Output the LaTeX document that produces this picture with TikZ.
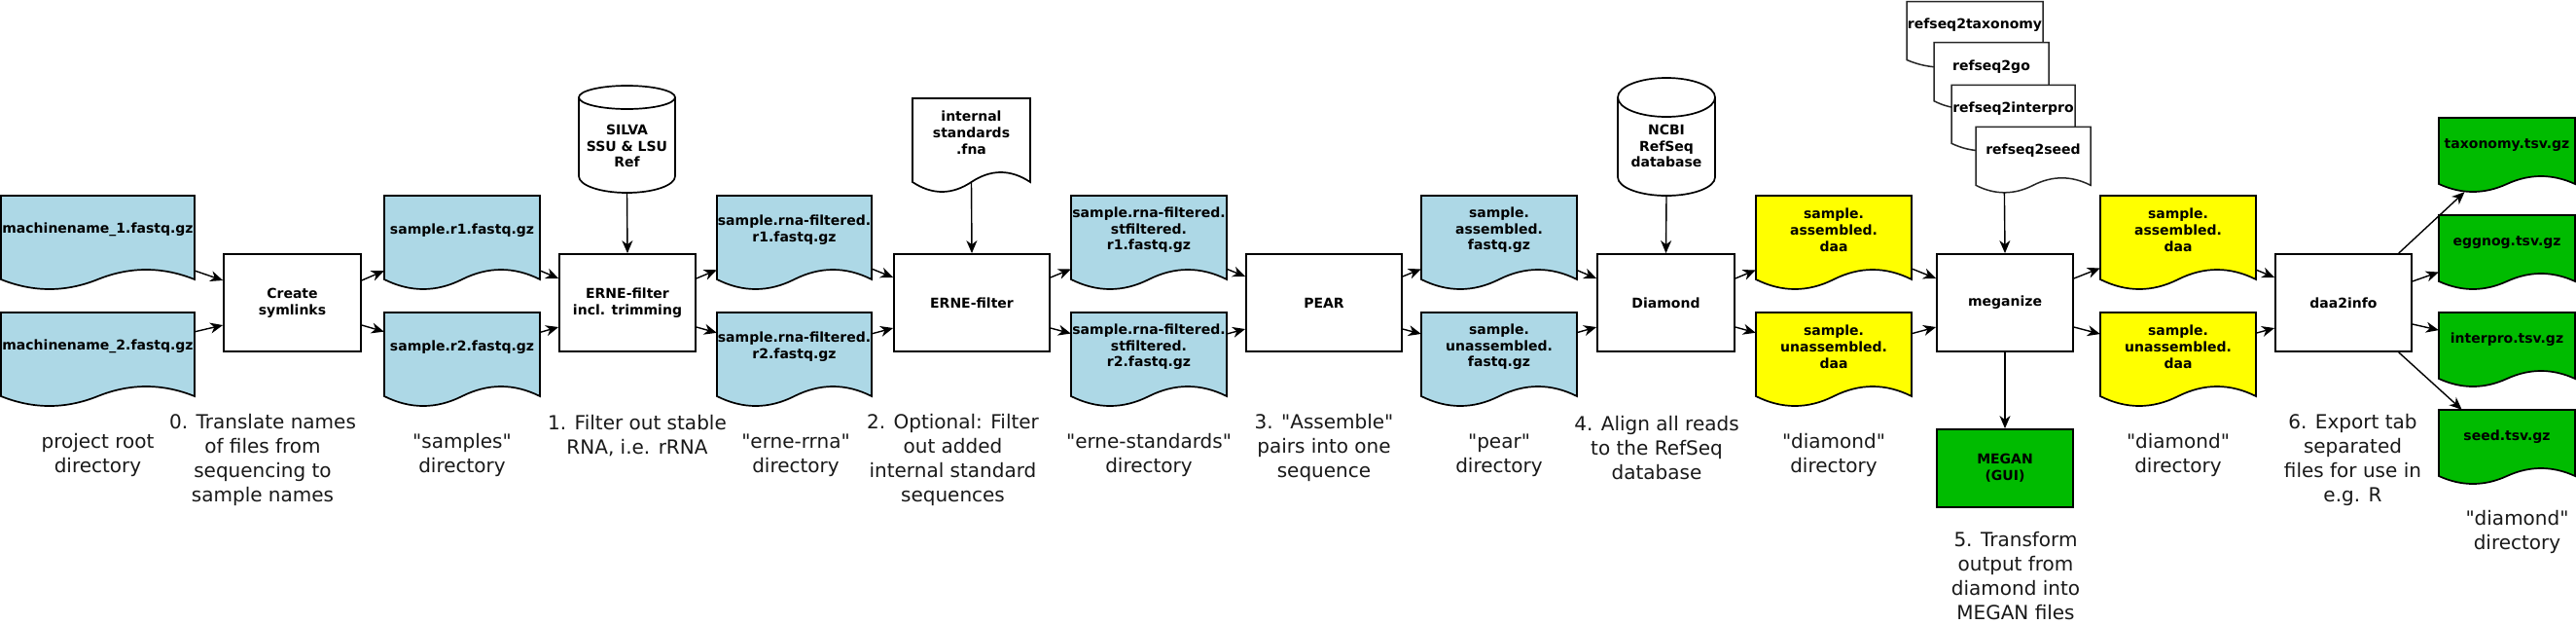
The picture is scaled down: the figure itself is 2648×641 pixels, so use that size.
\documentclass[tikz,border=0pt]{standalone}
\usepackage{fontspec}
\setmainfont{DejaVu Sans}[Ligatures=TeXOff]
\usetikzlibrary{arrows.meta,calc}
\definecolor{docblue}{HTML}{ADD8E6}
\definecolor{docyellow}{HTML}{FFFF00}
\definecolor{docgreen}{HTML}{00BB00}
\newcommand{\boldtxt}{\fontsize{14}{16.8}\selectfont\bfseries}
\newcommand{\normtxt}{\fontsize{20}{25}\selectfont}

% document shape: name, x, y(top), w, side height, wave amplitude, path style, text
\newcommand{\docshape}[8]{%
  \pgfmathsetmacro{\dcXa}{#2}%
  \pgfmathsetmacro{\dcXb}{#2+#4}%
  \pgfmathsetmacro{\dcXm}{#2+#4/2}%
  \pgfmathsetmacro{\dcXq}{#2+5*#4/6}%
  \pgfmathsetmacro{\dcXr}{#2+2*#4/3}%
  \pgfmathsetmacro{\dcXs}{#2+#4/3}%
  \pgfmathsetmacro{\dcXt}{#2+#4/6}%
  \pgfmathsetmacro{\dcYb}{#3+#5}%
  \pgfmathsetmacro{\dcYu}{#3+#5-4*#6/3}%
  \pgfmathsetmacro{\dcYd}{#3+#5+4*#6/3}%
  \pgfmathsetmacro{\dcYc}{#3+#5/2}%
  \pgfmathsetmacro{\dcYt}{#3+0.41*#5}%
  \path[#7] (\dcXa,#3) -- (\dcXb,#3) -- (\dcXb,\dcYb)
    .. controls (\dcXq,\dcYu) and (\dcXr,\dcYu) .. (\dcXm,\dcYb)
    .. controls (\dcXs,\dcYd) and (\dcXt,\dcYd) .. (\dcXa,\dcYb) -- cycle;
  \node[docanchor, minimum width=#4 pt, minimum height=#5 pt] (#1) at (\dcXm,\dcYc) {};
  \node[dtxt] (#1-t) at (\dcXm,\dcYt) {#8};
}

% cylinder: name, x0, x1, y top-ellipse centre, top ry, y bottom, bottom ry, text y, text
\newcommand{\cylshape}[9]{%
  \pgfmathsetmacro{\cyC}{(#2+#3)/2}%
  \pgfmathsetmacro{\cyK}{0.5523*(#3-#2)/2}%
  \pgfmathsetmacro{\cyTa}{#4-#5}%
  \pgfmathsetmacro{\cyTb}{#4+#5}%
  \pgfmathsetmacro{\cyTk}{0.5523*#5}%
  \pgfmathsetmacro{\cyBb}{#6+#7}%
  \pgfmathsetmacro{\cyBk}{0.5523*#7}%
  \pgfmathsetmacro{\cyH}{#6+#7-#4+#5}%
  \pgfmathsetmacro{\cyM}{(#4-#5+#6+#7)/2}%
  \pgfmathsetmacro{\cyW}{#3-#2}%
  \path[docline, fill=white] (#2,#4)
    .. controls (#2,#4-\cyTk) and (\cyC-\cyK,\cyTa) .. (\cyC,\cyTa)
    .. controls (\cyC+\cyK,\cyTa) and (#3,#4-\cyTk) .. (#3,#4) -- (#3,#6)
    .. controls (#3,#6+\cyBk) and (\cyC+\cyK,\cyBb) .. (\cyC,\cyBb)
    .. controls (\cyC-\cyK,\cyBb) and (#2,#6+\cyBk) .. (#2,#6) -- cycle;
  \path[docline] (#2,#4)
    .. controls (#2,#4+\cyTk) and (\cyC-\cyK,\cyTb) .. (\cyC,\cyTb)
    .. controls (\cyC+\cyK,\cyTb) and (#3,#4+\cyTk) .. (#3,#4);
  \node[docanchor, minimum width=\cyW pt, minimum height=\cyH pt] (#1) at (\cyC,\cyM) {};
  \node[dtxt] (#1-t) at (\cyC,#8) {#9};
}

\tikzset{
  procbox/.style={draw, line width=1.8pt, fill=white, font=\boldtxt, align=center, inner sep=2pt},
  flow/.style={-{Stealth[length=13pt,width=11pt,inset=4pt]}, line width=1.4pt},
  lbl/.style={font=\normtxt, align=center, inner sep=0pt, text=black!90},
  dtxt/.style={font=\boldtxt, align=center, inner sep=0pt},
  docanchor/.style={draw=none, inner sep=0pt, rectangle},
  docline/.style={draw, line width=1.7pt},
  stackline/.style={draw=black!85, line width=1.5pt},
}

\begin{document}
\begin{tikzpicture}[x=1pt, y=-1pt]
\fill[white] (0,0) rectangle (2648,641);
\path[use as bounding box] (0,0) rectangle (2648,641);

% ---------- stage 0 ----------
\docshape{m1}{1}{201}{199}{86}{10}{docline, fill=docblue}{machinename\_1.fastq.gz}
\docshape{m2}{1}{321}{199}{86}{10}{docline, fill=docblue}{machinename\_2.fastq.gz}
\node[procbox, minimum width=141pt, minimum height=100pt] (symlinks) at (300.5,311) {Create\\symlinks};
\docshape{s1}{395}{201}{160}{86}{10}{docline, fill=docblue}{sample.r1.fastq.gz}
\docshape{s2}{395}{321}{160}{86}{10}{docline, fill=docblue}{sample.r2.fastq.gz}

% ---------- stage 1 ----------
\cylshape{silva}{595}{694}{100}{12}{181}{17}{150}{SILVA\\SSU \& LSU\\Ref}
\node[procbox, minimum width=140pt, minimum height=100pt] (erne1) at (645,311) {ERNE-filter\\incl. trimming};
\docshape{r1}{737}{201}{159}{86}{10}{docline, fill=docblue}{sample.rna-filtered.\\r1.fastq.gz}
\docshape{r2}{737}{321}{159}{86}{10}{docline, fill=docblue}{sample.rna-filtered.\\r2.fastq.gz}

% ---------- stage 2 ----------
\docshape{istd}{938}{101}{121}{86}{10}{docline, fill=white}{internal\\standards\\.fna}
\node[procbox, minimum width=160pt, minimum height=100pt] (erne2) at (999,311) {ERNE-filter};
\docshape{st1}{1101}{201}{160}{86}{10}{docline, fill=docblue}{sample.rna-filtered.\\stfiltered.\\r1.fastq.gz}
\docshape{st2}{1101}{321}{160}{86}{10}{docline, fill=docblue}{sample.rna-filtered.\\stfiltered.\\r2.fastq.gz}

% ---------- stage 3 ----------
\node[procbox, minimum width=160pt, minimum height=100pt] (pear) at (1361,311) {PEAR};
\docshape{pa}{1461}{201}{160}{86}{10}{docline, fill=docblue}{sample.\\assembled.\\fastq.gz}
\docshape{pu}{1461}{321}{160}{86}{10}{docline, fill=docblue}{sample.\\unassembled.\\fastq.gz}

% ---------- stage 4 ----------
\cylshape{ncbi}{1663}{1763}{100}{20}{182}{19}{150}{NCBI\\RefSeq\\database}
\node[procbox, minimum width=141pt, minimum height=100pt] (diamond) at (1712.5,311) {Diamond};
\docshape{da}{1805}{201}{160}{86}{10}{docline, fill=docyellow}{sample.\\assembled.\\daa}
\docshape{du}{1805}{321}{160}{86}{10}{docline, fill=docyellow}{sample.\\unassembled.\\daa}

% ---------- stage 5 ----------
\docshape{rtax}{1960}{1.5}{140}{60}{7.5}{stackline, fill=white}{refseq2taxonomy}
\docshape{rgo}{1988}{43.7}{118}{60}{7.5}{stackline, fill=white}{refseq2go}
\docshape{ripr}{2006}{87.3}{127}{60}{7.5}{stackline, fill=white}{refseq2interpro}
\docshape{rseed}{2031}{130.3}{118}{60}{7.5}{stackline, fill=white}{refseq2seed}
\node[procbox, minimum width=140pt, minimum height=100pt] (meganize) at (2061,311) {meganize};
\node[procbox, fill=docgreen, minimum width=140pt, minimum height=80pt] (megan) at (2061,481) {MEGAN\\(GUI)};
\docshape{ma}{2159}{201}{160}{86}{10}{docline, fill=docyellow}{sample.\\assembled.\\daa}
\docshape{mu}{2159}{321}{160}{86}{10}{docline, fill=docyellow}{sample.\\unassembled.\\daa}

% ---------- stage 6 ----------
\node[procbox, minimum width=140pt, minimum height=100pt] (daa2info) at (2409,311) {daa2info};
\docshape{gtax}{2507}{121}{140}{68}{8}{docline, fill=docgreen}{taxonomy.tsv.gz}
\docshape{gegg}{2507}{221}{140}{68}{8}{docline, fill=docgreen}{eggnog.tsv.gz}
\docshape{gipr}{2507}{321}{140}{68}{8}{docline, fill=docgreen}{interpro.tsv.gz}
\docshape{gseed}{2507}{421}{140}{68}{8}{docline, fill=docgreen}{seed.tsv.gz}

% ---------- connectors ----------
\draw[flow] (m1) -- ($(symlinks.west)+(0,-23)$);
\draw[flow] (m2) -- ($(symlinks.west)+(0,23)$);
\draw[flow] ($(symlinks.east)+(0,-23)$) -- (s1);
\draw[flow] ($(symlinks.east)+(0,23)$) -- (s2);

\draw[flow] (s1) -- ($(erne1.west)+(0,-25)$);
\draw[flow] (s2) -- ($(erne1.west)+(0,25)$);
\draw[flow] (silva.south) -- (erne1.north);
\draw[flow] ($(erne1.east)+(0,-25)$) -- (r1);
\draw[flow] ($(erne1.east)+(0,25)$) -- (r2);

\draw[flow] (r1) -- ($(erne2.west)+(0,-26)$);
\draw[flow] (r2) -- ($(erne2.west)+(0,26)$);
\draw[flow] (istd.south) -- (erne2.north);
\draw[flow] ($(erne2.east)+(0,-26)$) -- (st1);
\draw[flow] ($(erne2.east)+(0,26)$) -- (st2);

\draw[flow] (st1) -- ($(pear.west)+(0,-27)$);
\draw[flow] (st2) -- ($(pear.west)+(0,27)$);
\draw[flow] ($(pear.east)+(0,-27)$) -- (pa);
\draw[flow] ($(pear.east)+(0,27)$) -- (pu);

\draw[flow] (pa) -- ($(diamond.west)+(0,-25)$);
\draw[flow] (pu) -- ($(diamond.west)+(0,25)$);
\draw[flow] (ncbi.south) -- (diamond.north);
\draw[flow] ($(diamond.east)+(0,-25)$) -- (da);
\draw[flow] ($(diamond.east)+(0,25)$) -- (du);

\draw[flow] (da) -- ($(meganize.west)+(0,-25)$);
\draw[flow] (du) -- ($(meganize.west)+(0,25)$);
\draw[flow] ($(rseed.south west)!0.25!(rseed.south east)+(0,7.5)$) -- (meganize.north);
\draw[flow] (meganize.south) -- (megan.north);
\draw[flow] ($(meganize.east)+(0,-25)$) -- (ma);
\draw[flow] ($(meganize.east)+(0,25)$) -- (mu);

\draw[flow] (ma) -- ($(daa2info.west)+(0,-26)$);
\draw[flow] (mu) -- ($(daa2info.west)+(0,26)$);
\draw[flow] ($(daa2info.north west)!0.9!(daa2info.north east)$) -- ($(gtax.south west)!0.19!(gtax.south east)+(0,8)$);
\draw[flow] ($(daa2info.east)+(0,-22)$) -- (gegg);
\draw[flow] ($(daa2info.east)+(0,22)$) -- (gipr);
\draw[flow] ($(daa2info.south west)!0.9!(daa2info.south east)$) -- ($(gseed.north west)!0.17!(gseed.north east)$);

% ---------- labels ----------
\node[lbl] (lroot) at (100.5,467.5) {project root\\directory};
\node[lbl] (l0) at (270,472.5) {0. Translate names\\of files from\\sequencing to\\sample names};
\node[lbl] (lsamples) at (475,467.5) {"samples"\\directory};
\node[lbl] (l1) at (655,447.5) {1. Filter out stable\\RNA, i.e. rRNA};
\node[lbl] (lrrna) at (818,467.5) {"erne-rrna"\\directory};
\node[lbl] (l2) at (979.5,472.5) {2. Optional: Filter\\out added\\internal standard\\sequences};
\node[lbl] (lstd) at (1181,467.5) {"erne-standards"\\directory};
\node[lbl] (l3) at (1361,460) {3. "Assemble"\\pairs into one\\sequence};
\node[lbl] (lpear) at (1541,467.5) {"pear"\\directory};
\node[lbl] (l4) at (1703,460) {4. Align all reads\\to the RefSeq\\database};
\node[lbl] (ldia1) at (1885,467.5) {"diamond"\\directory};
\node[lbl] (l5) at (2072,592) {5. Transform\\output from\\diamond into\\MEGAN files};
\node[lbl] (ldia2) at (2239,467.5) {"diamond"\\directory};
\node[lbl] (l6) at (2418.5,472) {6. Export tab\\separated\\files for use in\\e.g. R};
\node[lbl] (ldia3) at (2587.5,546.5) {"diamond"\\directory};
\end{tikzpicture}
\end{document}
